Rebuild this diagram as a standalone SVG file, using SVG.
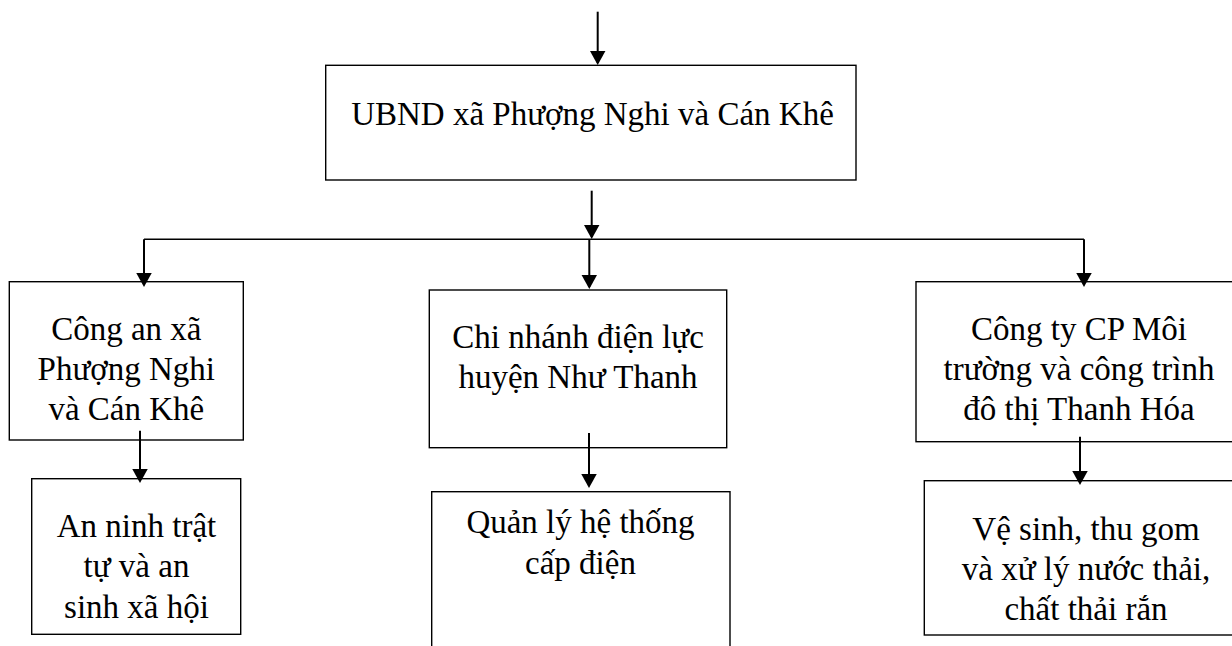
<svg xmlns="http://www.w3.org/2000/svg" width="1232" height="646" viewBox="0 0 1232 646">
<style>
.box{fill:#fff;stroke:#000;stroke-width:1.4}
.t{font-family:"Liberation Serif","Times New Roman",serif;font-size:33px;fill:#000;text-anchor:middle}
.arr{stroke:#000;stroke-width:2;fill:none;marker-end:url(#ah)}
.ln{stroke:#000;stroke-width:1.4;fill:none}
</style>
<defs>
<marker id="ah" markerUnits="userSpaceOnUse" markerWidth="15" markerHeight="16" refX="12.5" refY="8" orient="auto" viewBox="0 0 15 16">
<path d="M0,0 L14.5,8 L0,16 z" fill="#000"/>
</marker>
</defs>
<rect width="1232" height="646" fill="#fff"/>
<g id="ubnd">
<rect class="box" x="325.7" y="65.3" width="530.3" height="114.7"/>
<text class="t" x="592.5" y="125">UBND xã Phượng Nghi và Cán Khê</text>
</g>
<g id="congan">
<rect class="box" x="9.3" y="281.7" width="234" height="158.3"/>
<text class="t" x="126.3" y="340">Công an xã</text>
<text class="t" x="126.3" y="379.5">Phượng Nghi</text>
<text class="t" x="126.3" y="420">và Cán Khê</text>
</g>
<g id="dienluc">
<rect class="box" x="429.3" y="290" width="297.4" height="157.7"/>
<text class="t" x="578" y="348">Chi nhánh điện lực</text>
<text class="t" x="578" y="388">huyện Như Thanh</text>
</g>
<g id="moitruong">
<rect class="box" x="916" y="281.7" width="330" height="160"/>
<text class="t" x="1079" y="340">Công ty CP Môi</text>
<text class="t" x="1079" y="380">trường và công trình</text>
<text class="t" x="1079" y="420">đô thị Thanh Hóa</text>
</g>
<g id="anninh">
<rect class="box" x="31.7" y="478.7" width="209" height="155.6"/>
<text class="t" x="136.5" y="537">An ninh trật</text>
<text class="t" x="136.5" y="577">tự và an</text>
<text class="t" x="136.5" y="618">sinh xã hội</text>
</g>
<g id="capdien">
<rect class="box" x="431.7" y="491.7" width="298.3" height="200"/>
<text class="t" x="580.5" y="533">Quản lý hệ thống</text>
<text class="t" x="580.5" y="574">cấp điện</text>
</g>
<g id="vesinh">
<rect class="box" x="924.3" y="480.7" width="330" height="154.3"/>
<text class="t" x="1086" y="540">Vệ sinh, thu gom</text>
<text class="t" x="1086" y="580">và xử lý nước thải,</text>
<text class="t" x="1086" y="620">chất thải rắn</text>
</g>
<g id="connectors">
<line class="arr" x1="597.7" y1="11.7" x2="597.7" y2="63"/>
<line class="arr" x1="591.7" y1="190.7" x2="591.7" y2="237"/>
<line class="ln" x1="144" y1="239.3" x2="1084" y2="239.3"/>
<line class="arr" x1="144" y1="239.3" x2="144" y2="285"/>
<line class="arr" x1="589.3" y1="239.3" x2="589.3" y2="287"/>
<line class="arr" x1="1084" y1="239.3" x2="1084" y2="285"/>
<line class="arr" x1="140" y1="430.7" x2="140" y2="481"/>
<line class="arr" x1="589" y1="433" x2="589" y2="486"/>
<line class="arr" x1="1080" y1="436.7" x2="1080" y2="483"/>
</g>
</svg>
